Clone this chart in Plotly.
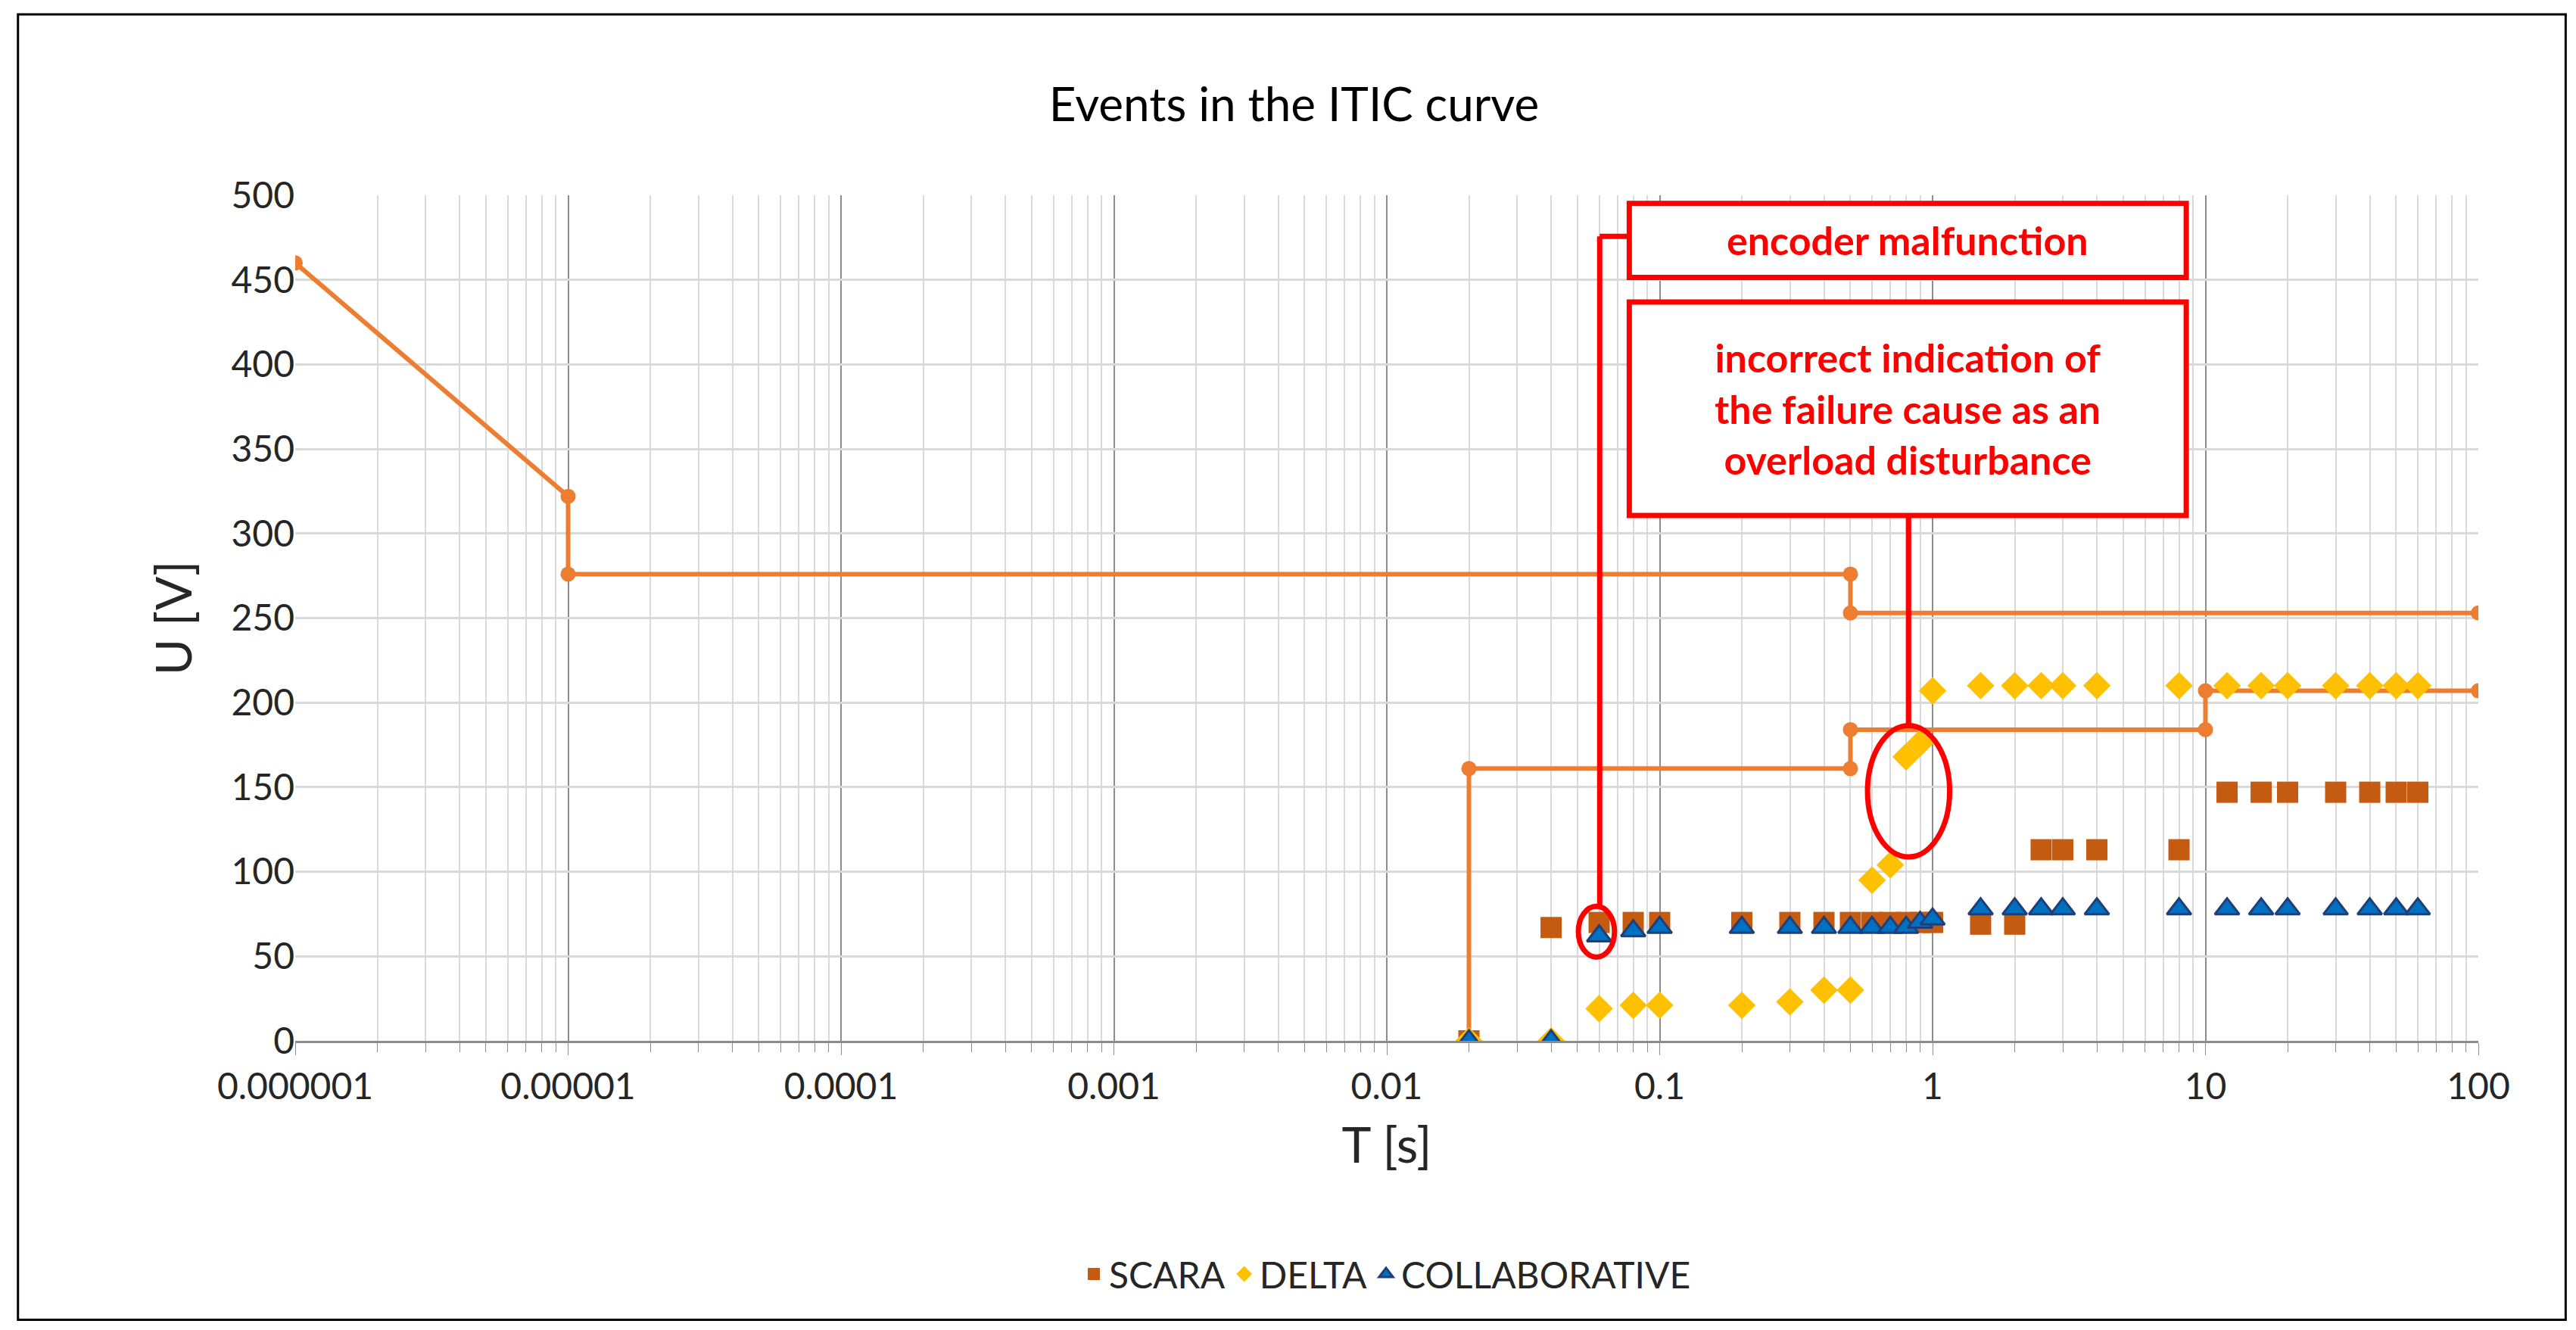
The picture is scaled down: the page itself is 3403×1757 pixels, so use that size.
import numpy as np
import plotly.graph_objects as go

# ITIC curve
itic_up_t = [1e-6, 1e-5, 1e-5, 0.5, 0.5, 100]
itic_up_u = [460, 322, 276, 276, 253, 253]
itic_lo_t = [0.02, 0.02, 0.5, 0.5, 10, 10, 100]
itic_lo_u = [0, 161, 161, 184, 184, 207, 207]

scara_t = [0.02, 0.04, 0.06, 0.08, 0.1, 0.2, 0.3, 0.4, 0.5, 0.6, 0.7, 0.8, 0.9, 1, 1.5, 2,
           2.5, 3, 4, 8, 12, 16, 20, 30, 40, 50, 60]
scara_u = [0, 67, 70, 70, 70, 70, 70, 70, 70, 70, 70, 70, 70, 70, 69, 69,
           113, 113, 113, 113, 147, 147, 147, 147, 147, 147, 147]
delta_t = [0.02, 0.04, 0.06, 0.08, 0.1, 0.2, 0.3, 0.4, 0.5, 0.6, 0.7, 0.8, 0.9, 1, 1.5, 2,
           2.5, 3, 4, 8, 12, 16, 20, 30, 40, 50, 60]
delta_u = [0, 0, 19, 21, 21, 21, 23, 30, 30, 95, 104, 168, 176, 207, 210, 210,
           210, 210, 210, 210, 210, 210, 210, 210, 210, 210, 210]
collab_t = [0.02, 0.04, 0.06, 0.08, 0.1, 0.2, 0.3, 0.4, 0.5, 0.6, 0.7, 0.8, 0.9, 1, 1.5, 2,
            2.5, 3, 4, 8, 12, 16, 20, 30, 40, 50, 60]
collab_u = [0, 0, 62, 65, 67, 67, 67, 67, 67, 67, 67, 67, 70, 72, 78, 78,
            78, 78, 78, 78, 78, 78, 78, 78, 78, 78, 78]

tick_vals = [1e-6, 1e-5, 1e-4, 1e-3, 1e-2, 1e-1, 1, 10, 100]
tick_text = ["0.000001", "0.00001", "0.0001", "0.001", "0.01", "0.1", "1", "10", "100"]

FONT = "Lato"
fig = go.Figure()
for t, u in [(itic_up_t, itic_up_u), (itic_lo_t, itic_lo_u)]:
    fig.add_trace(go.Scatter(x=t, y=u, mode="lines+markers", showlegend=False,
                             line=dict(color="#ED7D31", width=6),
                             marker=dict(size=20, color="#ED7D31")))
fig.add_trace(go.Scatter(x=scara_t, y=scara_u, mode="markers", name="SCARA",
                         marker=dict(symbol="square", size=28, color="#C55A11")))
fig.add_trace(go.Scatter(x=delta_t, y=delta_u, mode="markers", name="DELTA",
                         marker=dict(symbol="diamond", size=28, color="#FFC000")))
fig.add_trace(go.Scatter(x=collab_t, y=collab_u, mode="markers", name="COLLABORATIVE",
                         marker=dict(symbol="triangle-up", size=28, color="#0070C0",
                                     line=dict(color="#1F3F7A", width=3))))

def px2x(px):
    return 10 ** (-6 + (px - 176) / 166.1)
def px2y(py):
    return (630 - py) / 1.03

red = "#FF0000"
shapes = []
shapes.append(dict(type="line", xref="x", yref="y", x0=px2x(970), x1=px2x(970), y0=px2y(140), y1=px2y(548),
                   line=dict(color=red, width=7)))
shapes.append(dict(type="line", xref="x", yref="y", x0=px2x(970), x1=px2x(990), y0=px2y(140), y1=px2y(140),
                   line=dict(color=red, width=7)))
shapes.append(dict(type="line", xref="x", yref="y", x0=px2x(1158), x1=px2x(1158), y0=px2y(310), y1=px2y(438),
                   line=dict(color=red, width=7)))
shapes.append(dict(type="rect", xref="x", yref="y", x0=px2x(988), x1=px2x(1327), y0=px2y(120), y1=px2y(165),
                   line=dict(color=red, width=7), fillcolor="white"))
shapes.append(dict(type="rect", xref="x", yref="y", x0=px2x(988), x1=px2x(1327), y0=px2y(180), y1=px2y(310),
                   line=dict(color=red, width=7), fillcolor="white"))
shapes.append(dict(type="circle", xref="x", yref="y", x0=px2x(957), x1=px2x(979), y0=px2y(548), y1=px2y(579),
                   line=dict(color=red, width=7)))
shapes.append(dict(type="circle", xref="x", yref="y", x0=px2x(1133), x1=px2x(1183), y0=px2y(438), y1=px2y(518),
                   line=dict(color=red, width=7)))
shapes.append(dict(type="rect", xref="paper", yref="paper", x0=-0.127, x1=1.04, y0=-0.33, y1=1.214,
                   line=dict(color="black", width=3), layer="below"))

annots = [
    dict(x=np.log10(px2x(1157.5)), y=px2y(142), xref="x", yref="y", text="<b>encoder malfunction</b>", showarrow=False,
         font=dict(family=FONT, size=52, color=red)),
    dict(x=np.log10(px2x(1157.5)), y=px2y(245), xref="x", yref="y",
         text="<b>incorrect indication of<br>the failure cause as an<br>overload disturbance</b>",
         showarrow=False, font=dict(family=FONT, size=52, color=red)),
]

fig.update_layout(
    width=3403, height=1757, paper_bgcolor="white", plot_bgcolor="white",
    margin=dict(l=382, r=137, t=250, b=390),
    font=dict(family=FONT, color="#262626", size=48),
    title=dict(text="Events in the ITIC curve", x=0.5, xanchor="center", y=0.926, yanchor="middle",
               font=dict(size=62, family=FONT, color="black")),
    shapes=shapes, annotations=annots,
    legend=dict(orientation="h", x=0.5, xanchor="center", y=-0.276, yanchor="middle",
                font=dict(size=48, family=FONT, color="#262626")),
    xaxis=dict(type="log", range=[-6, 2], tickvals=tick_vals, ticktext=tick_text,
               showgrid=True, gridcolor="#8C8C8C", gridwidth=2,
               minor=dict(dtick="D1", showgrid=True, gridcolor="#D9D9D9", gridwidth=2,
                          ticks="outside", ticklen=12, tickcolor="#8C8C8C"),
               ticks="outside", ticklen=16, tickcolor="#8C8C8C",
               showline=True, linecolor="#8C8C8C", linewidth=3, zeroline=False,
               title=dict(text="T [s]", font=dict(size=66, family=FONT, color="#262626"), standoff=30)),
    yaxis=dict(range=[0, 500], dtick=50, showgrid=True, gridcolor="#D9D9D9", gridwidth=3,
               zeroline=False, showline=False, ticks="",
               title=dict(text="U [V]", font=dict(size=66, family=FONT, color="#262626"), standoff=30)),
)
fig.write_html("out.html")
